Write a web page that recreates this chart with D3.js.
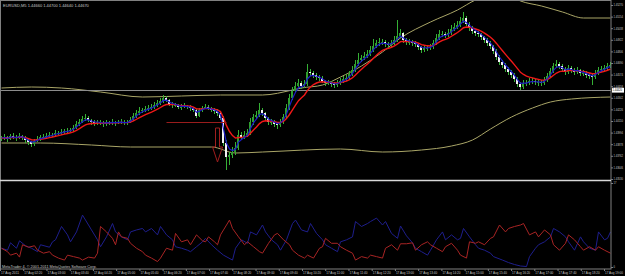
<!DOCTYPE html>
<html>
<head>
<meta charset="utf-8">
<script src="https://cdn.jsdelivr.net/npm/d3@7"></script>
<style>
  html, body { margin: 0; padding: 0; background: #000; }
  svg { display: block; font-family: "Liberation Sans", Arial, sans-serif; }
</style>
</head>
<body>
<svg id="chart" width="625" height="276"></svg>
<script>
const SYMBOL = "EURUSD,M5";
const COPYRIGHT = "MetaTrader 4, \u00a9 2001-2011 MetaQuotes Software Corp.";

// EURUSD M5 bars, 17 Aug 2011
const opens = [
  1.4393,1.4394,1.4395,1.4393,1.4396,1.4395,1.4394,1.4396,1.4395,1.4392,
  1.4390,1.4388,1.4391,1.4393,1.4395,1.4395,1.4396,1.4397,1.4397,1.4399,
  1.4399,1.4400,1.4401,1.4401,1.4402,1.4404,1.4408,1.4410,1.4413,1.4414,
  1.4412,1.4410,1.4409,1.4410,1.4409,1.4408,1.4410,1.4409,1.4410,1.4409,
  1.4410,1.4410,1.4409,1.4410,1.4412,1.4416,1.4419,1.4421,1.4422,1.4423,
  1.4424,1.4425,1.4427,1.4429,1.4431,1.4434,1.4432,1.4428,1.4427,1.4427,
  1.4425,1.4425,1.4426,1.4425,1.4424,1.4422,1.4416,1.4422,1.4424,1.4425,
  1.4424,1.4422,1.4421,1.4419,1.4414,1.4389,1.4375,1.4377,1.4380,1.4384,
  1.4397,1.4395,1.4397,1.4399,1.4410,1.4415,1.4417,1.4422,1.4419,1.4414,
  1.4410,1.4410,1.4408,1.4407,1.4410,1.4415,1.4424,1.4434,1.4441,1.4446,
  1.4449,1.4446,1.4448,1.4460,1.4459,1.4457,1.4455,1.4454,1.4451,1.4449,
  1.4449,1.4448,1.4447,1.4449,1.4451,1.4453,1.4454,1.4458,1.4462,1.4468,
  1.4472,1.4474,1.4476,1.4478,1.4482,1.4486,1.4489,1.4490,1.4490,1.4488,
  1.4487,1.4489,1.4492,1.4496,1.4499,1.4492,1.4490,1.4490,1.4489,1.4488,
  1.4485,1.4482,1.4484,1.4484,1.4485,1.4489,1.4494,1.4498,1.4498,1.4497,
  1.4499,1.4503,1.4505,1.4507,1.4511,1.4514,1.4508,1.4504,1.4501,1.4499,
  1.4498,1.4495,1.4492,1.4489,1.4486,1.4481,1.4475,1.4470,1.4467,1.4463,
  1.4460,1.4457,1.4453,1.4448,1.4445,1.4449,1.4449,1.4451,1.4451,1.4450,
  1.4450,1.4449,1.4452,1.4456,1.4461,1.4466,1.4468,1.4466,1.4463,1.4460,
  1.4464,1.4462,1.4460,1.4462,1.4459,1.4459,1.4457,1.4456,1.4455,1.4459,
  1.4462,1.4463,1.4464,1.4466
];
const highs = [
  1.4396,1.4398,1.4396,1.4398,1.4399,1.4397,1.4399,1.4397,1.4396,1.4394,
  1.4391,1.4393,1.4396,1.4397,1.4398,1.4399,1.4400,1.4399,1.4402,1.4401,
  1.4403,1.4403,1.4404,1.4404,1.4407,1.4411,1.4413,1.4416,1.4418,1.4416,
  1.4413,1.4412,1.4412,1.4412,1.4411,1.4412,1.4411,1.4413,1.4411,1.4412,
  1.4413,1.4412,1.4412,1.4415,1.4419,1.4422,1.4425,1.4424,1.4426,1.4427,
  1.4428,1.4430,1.4432,1.4434,1.4437,1.4436,1.4433,1.4430,1.4429,1.4428,
  1.4428,1.4429,1.4427,1.4427,1.4425,1.4423,1.4424,1.4426,1.4428,1.4427,
  1.4425,1.4424,1.4423,1.4420,1.4416,1.4392,1.4380,1.4385,1.4390,1.4402,
  1.4400,1.4401,1.4403,1.4414,1.4418,1.4421,1.4429,1.4424,1.4420,1.4415,
  1.4413,1.4412,1.4410,1.4413,1.4418,1.4428,1.4438,1.4445,1.4450,1.4453,
  1.4451,1.4452,1.4468,1.4463,1.4461,1.4459,1.4457,1.4456,1.4452,1.4452,
  1.4451,1.4450,1.4452,1.4454,1.4456,1.4458,1.4461,1.4466,1.4472,1.4479,
  1.4477,1.4480,1.4482,1.4486,1.4493,1.4492,1.4494,1.4493,1.4492,1.4490,
  1.4492,1.4496,1.4512,1.4503,1.4500,1.4494,1.4493,1.4492,1.4491,1.4489,
  1.4486,1.4487,1.4487,1.4488,1.4492,1.4498,1.4502,1.4501,1.4500,1.4503,
  1.4507,1.4509,1.4511,1.4515,1.4520,1.4516,1.4510,1.4506,1.4503,1.4501,
  1.4499,1.4496,1.4494,1.4491,1.4487,1.4483,1.4477,1.4472,1.4469,1.4465,
  1.4462,1.4459,1.4455,1.4450,1.4452,1.4452,1.4454,1.4454,1.4453,1.4453,
  1.4452,1.4455,1.4459,1.4464,1.4469,1.4472,1.4470,1.4468,1.4465,1.4467,
  1.4466,1.4464,1.4465,1.4463,1.4462,1.4461,1.4459,1.4458,1.4462,1.4465,
  1.4466,1.4467,1.4469,1.4470
];
const lows = [
  1.4391,1.4392,1.4390,1.4392,1.4393,1.4391,1.4393,1.4392,1.4389,1.4387,
  1.4385,1.4386,1.4390,1.4391,1.4393,1.4393,1.4394,1.4395,1.4396,1.4397,
  1.4397,1.4398,1.4399,1.4400,1.4400,1.4403,1.4406,1.4409,1.4411,1.4410,
  1.4407,1.4406,1.4407,1.4407,1.4405,1.4406,1.4407,1.4407,1.4406,1.4408,
  1.4408,1.4407,1.4407,1.4409,1.4411,1.4414,1.4417,1.4419,1.4420,1.4421,
  1.4422,1.4423,1.4425,1.4427,1.4429,1.4430,1.4426,1.4424,1.4425,1.4423,
  1.4422,1.4424,1.4423,1.4421,1.4420,1.4414,1.4415,1.4420,1.4423,1.4422,
  1.4420,1.4418,1.4416,1.4412,1.4386,1.4362,1.4367,1.4374,1.4377,1.4382,
  1.4392,1.4393,1.4395,1.4397,1.4407,1.4413,1.4415,1.4416,1.4411,1.4407,
  1.4407,1.4405,1.4403,1.4405,1.4408,1.4413,1.4422,1.4432,1.4439,1.4444,
  1.4443,1.4444,1.4446,1.4456,1.4454,1.4452,1.4451,1.4449,1.4446,1.4447,
  1.4445,1.4444,1.4445,1.4447,1.4449,1.4451,1.4452,1.4456,1.4460,1.4466,
  1.4470,1.4472,1.4474,1.4476,1.4480,1.4484,1.4486,1.4487,1.4485,1.4484,
  1.4485,1.4487,1.4490,1.4494,1.4489,1.4487,1.4487,1.4486,1.4485,1.4482,
  1.4479,1.4480,1.4481,1.4482,1.4483,1.4487,1.4492,1.4495,1.4494,1.4495,
  1.4497,1.4501,1.4503,1.4505,1.4509,1.4506,1.4501,1.4498,1.4496,1.4495,
  1.4492,1.4489,1.4486,1.4483,1.4478,1.4472,1.4467,1.4464,1.4460,1.4457,
  1.4454,1.4450,1.4445,1.4442,1.4443,1.4446,1.4447,1.4448,1.4447,1.4446,
  1.4446,1.4447,1.4450,1.4454,1.4459,1.4464,1.4463,1.4460,1.4457,1.4458,
  1.4459,1.4457,1.4458,1.4456,1.4456,1.4454,1.4453,1.4447,1.4453,1.4457,
  1.4460,1.4461,1.4462,1.4464
];
const closes = [
  1.4394,1.4395,1.4393,1.4396,1.4395,1.4394,1.4396,1.4395,1.4392,1.4390,
  1.4388,1.4391,1.4393,1.4395,1.4395,1.4396,1.4397,1.4397,1.4399,1.4399,
  1.4400,1.4401,1.4401,1.4402,1.4404,1.4408,1.4410,1.4413,1.4414,1.4412,
  1.4410,1.4409,1.4410,1.4409,1.4408,1.4410,1.4409,1.4410,1.4409,1.4410,
  1.4410,1.4409,1.4410,1.4412,1.4416,1.4419,1.4421,1.4422,1.4423,1.4424,
  1.4425,1.4427,1.4429,1.4431,1.4434,1.4432,1.4428,1.4427,1.4427,1.4425,
  1.4425,1.4426,1.4425,1.4424,1.4422,1.4416,1.4422,1.4424,1.4425,1.4424,
  1.4422,1.4421,1.4419,1.4414,1.4389,1.4375,1.4377,1.4380,1.4384,1.4397,
  1.4395,1.4397,1.4399,1.4410,1.4415,1.4417,1.4422,1.4419,1.4414,1.4410,
  1.4410,1.4408,1.4407,1.4410,1.4415,1.4424,1.4434,1.4441,1.4446,1.4449,
  1.4446,1.4448,1.4460,1.4459,1.4457,1.4455,1.4454,1.4451,1.4449,1.4449,
  1.4448,1.4447,1.4449,1.4451,1.4453,1.4454,1.4458,1.4462,1.4468,1.4472,
  1.4474,1.4476,1.4478,1.4482,1.4486,1.4489,1.4490,1.4490,1.4488,1.4487,
  1.4489,1.4492,1.4496,1.4499,1.4492,1.4490,1.4490,1.4489,1.4488,1.4485,
  1.4482,1.4484,1.4484,1.4485,1.4489,1.4494,1.4498,1.4498,1.4497,1.4499,
  1.4503,1.4505,1.4507,1.4511,1.4514,1.4508,1.4504,1.4501,1.4499,1.4498,
  1.4495,1.4492,1.4489,1.4486,1.4481,1.4475,1.4470,1.4467,1.4463,1.4460,
  1.4457,1.4453,1.4448,1.4445,1.4449,1.4449,1.4451,1.4451,1.4450,1.4450,
  1.4449,1.4452,1.4456,1.4461,1.4466,1.4468,1.4466,1.4463,1.4460,1.4464,
  1.4462,1.4460,1.4462,1.4459,1.4459,1.4457,1.4456,1.4455,1.4459,1.4462,
  1.4463,1.4464,1.4466,1.4467
];

// envelope lines, [bar, price]
const upperBand = [[0,1.4444],[10,1.4445],[20,1.4444],[33,1.4440],[47,1.4435],[60,1.4436],
  [73,1.4437],[87,1.4437],[97,1.4442],[100,1.4444],[107,1.4447],[113,1.4455],[120,1.4466],
  [127,1.4480],[133,1.4494],[143,1.4510],[152,1.4522],[158,1.4532],[165,1.4538],[170,1.4535],
  [173,1.4531],[180,1.4526],[187,1.4520],[194,1.4514],[203,1.4514]];
const lowerBand = [[0,1.4389],[13,1.4389],[30,1.4387],[43,1.4385],[70,1.4385],[78,1.4379],
  [87,1.4380],[113,1.4383],[127,1.4380],[140,1.4382],[150,1.4386],[157,1.4392],[163,1.4403],
  [170,1.4415],[177,1.4424],[183,1.4430],[190,1.4433],[203,1.4435]];

// objects drawn on the chart
const hLinePrice = 1.4442;               // grey horizontal line
const redLevel = { from: 55, to: 75, price: 1.4410 };
const arrowMark = { bar: 72, top: 1.4404, neck: 1.4385, tip: 1.4370 };

// oscillator window, [bar, value]
const oscBlue = [[0,3.8],[2,3.4],[3,4.9],[5,3.8],[6,5.3],[8,4.3],[10,3.8],[12,3.1],[13,4.5],[16,4.0],
  [17,5.1],[18,5.5],[20,8.2],[22,6.5],[23,5.1],[25,7.1],[27,10.5],[28,9.5],[30,7.5],[32,5.5],
  [33,4.1],[35,6.1],[37,8.8],[38,7.1],[40,6.1],[42,5.5],[43,7.1],[45,7.5],[47,7.8],[48,7.1],
  [50,7.8],[52,6.5],[53,8.2],[55,6.5],[57,5.5],[58,4.1],[60,3.8],[62,3.4],[63,3.1],[65,4.1],
  [67,5.1],[68,5.8],[70,4.5],[72,3.4],[74,2.4],[77,1.4],[78,3.8],[80,5.5],[82,4.8],[83,7.1],
  [85,6.5],[87,8.5],[88,7.1],[90,5.5],[92,4.5],[93,3.4],[95,5.5],[97,8.8],[98,9.5],[100,7.5],
  [102,7.1],[103,8.8],[105,6.8],[107,5.5],[108,4.5],[110,3.8],[112,3.1],[113,5.1],[115,5.5],
  [117,6.1],[118,9.2],[120,8.2],[122,8.8],[123,9.2],[125,9.9],[127,8.5],[128,9.2],[130,6.8],
  [132,5.8],[133,8.3],[135,6.3],[137,4.9],[138,3.8],[140,3.1],[142,2.4],[143,3.4],[145,5.5],
  [147,7.1],[148,5.5],[150,6.5],[152,5.5],[153,5.8],[154,7.8],[156,6.1],[158,4.5],[159,3.8],
  [161,3.4],[163,2.8],[164,2.1],[167,1.4],[169,0.9],[171,0.5],[173,0.2],[175,0.1],[176,2.1],
  [178,3.8],[179,4.5],[181,5.1],[183,6.1],[184,7.8],[186,7.1],[188,6.1],[189,5.1],[191,3.4],
  [193,6.1],[194,5.1],[196,3.8],[198,3.4],[199,7.1],[201,5.5],[202,5.8],[203,7.1]];
const oscRed = [[0,3.8],[2,3.1],[3,2.4],[5,2.8],[6,2.0],[7,4.5],[9,4.0],[11,4.3],[12,3.4],[14,2.8],
  [16,3.1],[17,2.4],[19,1.8],[21,1.4],[22,2.4],[24,2.1],[26,1.8],[27,1.4],[29,2.0],[31,1.8],
  [32,2.8],[33,8.2],[35,7.1],[37,5.8],[38,4.5],[39,7.1],[40,6.1],[42,5.8],[43,4.8],[45,3.8],
  [47,3.1],[48,2.4],[50,1.8],[52,1.1],[53,1.8],[55,3.8],[57,3.4],[58,6.8],[60,5.1],[62,5.5],
  [63,4.5],[65,6.5],[67,5.3],[68,5.1],[69,6.1],[71,5.1],[72,4.5],[73,6.5],[74,7.5],[76,9.5],
  [77,7.8],[79,6.1],[81,4.5],[82,5.1],[84,4.1],[86,3.1],[87,2.8],[89,4.8],[91,6.5],[92,6.8],
  [94,5.5],[96,4.5],[97,3.4],[99,2.4],[101,1.8],[102,2.4],[104,1.8],[106,3.8],[107,4.1],
  [108,5.8],[110,4.8],[112,4.8],[113,4.1],[115,3.4],[117,2.8],[118,1.4],[120,2.1],[122,1.8],
  [123,2.4],[125,2.1],[127,1.8],[128,3.8],[130,4.5],[132,3.4],[133,4.7],[135,4.7],[137,4.9],
  [138,3.4],[140,4.5],[142,5.1],[143,4.5],[145,3.8],[147,3.1],[148,4.1],[150,4.8],[152,3.4],
  [153,2.4],[155,1.8],[156,5.1],[158,4.8],[159,5.1],[161,4.5],[163,5.8],[164,6.1],[166,8.5],
  [168,7.1],[169,7.8],[171,8.2],[173,8.5],[174,8.8],[176,6.5],[178,7.1],[179,6.1],[181,7.5],
  [183,6.5],[184,4.5],[186,3.4],[188,4.8],[189,6.5],[191,5.5],[193,4.1],[194,3.4],[196,4.1],
  [198,3.4],[199,4.1],[201,3.4],[203,2.8]];

// axis labels
const priceTicks = [1.45270,1.45154,1.45038,1.44922,1.44806,1.44690,1.44574,1.44458,
  1.44342,1.44226,1.44110,1.43994,1.43878,1.43762,1.43646,1.43530];
const oscTicks = [0, 17];
const timeTicks = ["01:40","02:20","03:00","03:40","04:20","05:00","05:40","06:20","07:00",
  "07:40","08:20","09:00","09:40","10:20","11:00","11:40","12:20","13:00","13:40","14:20",
  "15:00","15:40","16:20","17:00","17:40","18:20","19:00"];

const FG = "#c8c8c8", GRID = "#808080";
const BULL = "#2e9e2e", BEAR = "#f2f2f2", WICK = "#35b035";
const PLOT_W = 611, MAIN_H = 180, OSC_TOP = 181, OSC_BOT = 269;
const AXIS_FONT = 2.6;   // small, so labels stay inside the 625px frame

var svg = d3.select("#chart");
svg.append("rect").attr("width", 625).attr("height", 276).attr("fill", "#000");

var x = d3.scaleLinear().domain([0, closes.length - 1]).range([1.5, PLOT_W - 0.5]);
var y = d3.scaleLinear().domain([1.4352, 1.4532]).range([MAIN_H, 0]);
var yOsc = d3.scaleLinear().domain([0, 17]).range([267, 183]);

var parseTime = d3.timeParse("%Y-%m-%d %H:%M");
var tickDates = timeTicks.map(function(t) { return parseTime("2011-08-17 " + t); });
var xTime = d3.scaleTime()
  .domain([tickDates[0], tickDates[tickDates.length - 1]])
  .range([0, 604]);

var defs = svg.append("defs");
defs.append("clipPath").attr("id", "clip-main")
  .append("rect").attr("x", 0).attr("y", 0).attr("width", PLOT_W).attr("height", MAIN_H);
defs.append("clipPath").attr("id", "clip-osc")
  .append("rect").attr("x", 0).attr("y", OSC_TOP).attr("width", PLOT_W).attr("height", OSC_BOT - OSC_TOP);

function ema(vals, n) {
  var k = 2 / (n + 1), out = [];
  vals.forEach(function(v, i) {
    out.push(i === 0 ? v : out[i - 1] + k * (v - out[i - 1]));
  });
  return out;
}

var bars = closes.map(function(c, i) {
  return { i: i, o: opens[i], h: highs[i], l: lows[i], c: c };
});

// ---- main window
var main = svg.append("g").attr("clip-path", "url(#clip-main)");

var bandLine = d3.line()
  .x(function(d) { return x(d[0]); })
  .y(function(d) { return y(d[1]); })
  .curve(d3.curveMonotoneX);

[upperBand, lowerBand].forEach(function(band) {
  main.append("path").datum(band)
    .attr("d", bandLine)
    .attr("fill", "none")
    .attr("stroke", "#a9a567")
    .attr("stroke-width", 1);
});

main.append("line")
  .attr("x1", 0).attr("x2", PLOT_W)
  .attr("y1", Math.round(y(hLinePrice)) + 0.5).attr("y2", Math.round(y(hLinePrice)) + 0.5)
  .attr("stroke", "#8c8c8c");

var candle = main.append("g").selectAll("g").data(bars).enter().append("g");

candle.append("line")
  .attr("x1", function(d) { return x(d.i); })
  .attr("x2", function(d) { return x(d.i); })
  .attr("y1", function(d) { return y(d.h); })
  .attr("y2", function(d) { return y(d.l); })
  .attr("stroke", WICK)
  .attr("stroke-width", 1);

candle.append("rect")
  .attr("x", function(d) { return x(d.i) - 1.5; })
  .attr("width", 2)
  .attr("y", function(d) { return y(Math.max(d.o, d.c)); })
  .attr("height", function(d) { return Math.max(1, Math.abs(y(d.o) - y(d.c))); })
  .attr("fill", function(d) { return d.c < d.o ? BEAR : BULL; });

var maLine = d3.line()
  .x(function(d, i) { return x(i); })
  .y(function(d) { return y(d); });

main.append("path").datum(ema(closes, 9))
  .attr("d", maLine).attr("fill", "none")
  .attr("stroke", "#f01818").attr("stroke-width", 1.4);

main.append("path").datum(ema(closes, 3))
  .attr("d", maLine).attr("fill", "none")
  .attr("stroke", "#1c1cc8").attr("stroke-width", 1.2);

// red level and arrow objects
main.append("line")
  .attr("x1", x(redLevel.from)).attr("x2", x(redLevel.to))
  .attr("y1", Math.round(y(redLevel.price)) + 0.5).attr("y2", Math.round(y(redLevel.price)) + 0.5)
  .attr("stroke", "#9a1c1c");

var ax = x(arrowMark.bar);
main.append("path")
  .attr("d", [
    "M", ax - 2, y(arrowMark.top), "L", ax + 2, y(arrowMark.top),
    "L", ax + 2, y(arrowMark.neck), "L", ax + 5, y(arrowMark.neck),
    "L", ax, y(arrowMark.tip), "L", ax - 5, y(arrowMark.neck),
    "L", ax - 2, y(arrowMark.neck), "Z"].join(" "))
  .attr("fill", "none")
  .attr("stroke", "#a01e1e")
  .attr("stroke-width", 1);

// ---- oscillator window
var osc = svg.append("g").attr("clip-path", "url(#clip-osc)");
var oscLine = d3.line()
  .x(function(d) { return x(d[0]); })
  .y(function(d) { return yOsc(d[1]); });

osc.append("path").datum(oscBlue)
  .attr("d", oscLine).attr("fill", "none")
  .attr("stroke", "#1e1e8c").attr("stroke-width", 1);
osc.append("path").datum(oscRed)
  .attr("d", oscLine).attr("fill", "none")
  .attr("stroke", "#a82424").attr("stroke-width", 1);

// ---- frame and separators
svg.append("rect")
  .attr("x", 0.5).attr("y", 0.5).attr("width", PLOT_W - 0.5).attr("height", OSC_BOT - 0.5)
  .attr("fill", "none").attr("stroke", GRID);
svg.append("line")
  .attr("x1", 0).attr("x2", PLOT_W).attr("y1", MAIN_H + 0.5).attr("y2", MAIN_H + 0.5)
  .attr("stroke", "#d8d8d8").attr("stroke-width", 1.5);

// ---- axes
function styleAxis(sel) {
  sel.attr("font-size", AXIS_FONT).attr("font-family", "Liberation Sans, Arial, sans-serif");
  sel.select(".domain").remove();
  sel.selectAll(".tick line").attr("stroke", GRID);
  sel.selectAll(".tick text").attr("fill", FG);
}

var priceAxis = svg.append("g")
  .attr("transform", "translate(" + PLOT_W + ",0)")
  .call(d3.axisRight(y).tickValues(priceTicks).tickFormat(d3.format(".5f")).tickSize(2).tickPadding(0.5))
  .call(styleAxis);
priceAxis.selectAll(".tick text")
  .attr("textLength", 9.5).attr("lengthAdjust", "spacingAndGlyphs");

svg.append("g")
  .attr("transform", "translate(" + PLOT_W + ",0)")
  .call(d3.axisRight(yOsc).tickValues(oscTicks).tickFormat(d3.format("d")).tickSize(2).tickPadding(0.5))
  .call(styleAxis);

var fmtFirst = d3.timeFormat("%d %b %Y"), fmtTick = d3.timeFormat("%d %b %H:%M");
var timeAxis = svg.append("g")
  .attr("transform", "translate(0," + OSC_BOT + ")")
  .call(d3.axisBottom(xTime).tickValues(tickDates)
    .tickFormat(function(d, i) { return i === 0 ? fmtFirst(d) : fmtTick(d); })
    .tickSize(2).tickPadding(1.2))
  .call(styleAxis);
timeAxis.selectAll(".tick text")
  .attr("text-anchor", "start").attr("x", 0.5)
  .attr("textLength", 18).attr("lengthAdjust", "spacingAndGlyphs");

// current price marker
var bidY = Math.round(y(hLinePrice));
svg.append("rect")
  .attr("x", PLOT_W + 1).attr("y", bidY - 2.2).attr("width", 12).attr("height", 4.8)
  .attr("fill", "#fff");
svg.append("text")
  .attr("x", PLOT_W + 1.5).attr("y", bidY + 1.2)
  .attr("font-size", AXIS_FONT).attr("fill", "#000")
  .attr("textLength", 9.5).attr("lengthAdjust", "spacingAndGlyphs")
  .text(d3.format(".5f")(hLinePrice));

// ---- texts
var last = bars[bars.length - 1];
svg.append("text")
  .attr("x", 3).attr("y", 6.5)
  .attr("font-size", 4).attr("fill", FG)
  .text(SYMBOL + "  " + [last.o, last.h, last.l, last.c].map(d3.format(".5f")).join(" "));

svg.append("text")
  .attr("x", 2).attr("y", 267.5)
  .attr("font-size", 3.8).attr("fill", FG)
  .text(COPYRIGHT);
</script>
</body>
</html>
